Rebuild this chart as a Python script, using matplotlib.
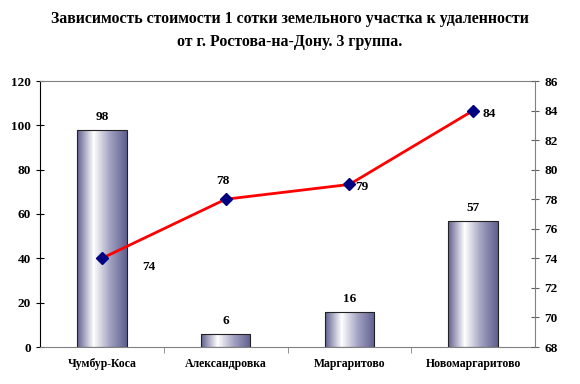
import numpy as np
import matplotlib.pyplot as plt
from matplotlib.colors import LinearSegmentedColormap

categories = ['Чумбур-Коса', 'Александровка', 'Маргаритово', 'Новомаргаритово']
price = [98, 6, 16, 57]
distance = [74, 78, 79, 84]

plt.rcParams['font.family'] = ['Liberation Serif', 'DejaVu Serif']
plt.rcParams['font.weight'] = 'bold'

fig = plt.figure(figsize=(5.8, 3.84), dpi=100)
ax = fig.add_axes([40 / 580, 1 - 347 / 384, 495 / 580, 266 / 384])
x = np.arange(len(categories))
w = 0.4

# градиент для столбцов
cmap = LinearSegmentedColormap.from_list('bar', ['#5e5e8e', '#ffffff', '#a0a0c0', '#5e5e8e'],
                                         N=256)
grad = np.linspace(0, 1, 256).reshape(1, -1)
bars = ax.bar(x, price, w, color='none', edgecolor='#222222', linewidth=0.8, zorder=3)
for b in bars:
    x0, y0 = b.get_x(), b.get_y()
    im = ax.imshow(grad, cmap=cmap, aspect='auto', extent=[x0, x0 + w, y0, y0 + b.get_height()],
                   zorder=2)
    im.set_clip_path(b)
for xi, v in zip(x, price):
    ax.text(xi, v + 3, str(v), ha='center', va='bottom', fontsize=9.5)

ax.set_xlim(-0.5, 3.5)
ax.set_ylim(0, 120)
ax.set_yticks(range(0, 121, 20))
ax.set_xticks(x)
ax.set_xticklabels(categories, fontsize=8.5)
ax.set_xticks([0.5, 1.5, 2.5], minor=True)
ax.tick_params(axis='x', which='major', length=0, pad=8)
ax.tick_params(axis='x', which='minor', length=4, color='#808080')
ax.tick_params(axis='y', labelsize=9.5, length=6, direction='inout')
ax.spines['top'].set_color('#808080')
ax.spines['bottom'].set_color('#808080')
ax.spines['right'].set_visible(False)

ax2 = ax.twinx()
ax2.plot(x, distance, color='red', lw=2, marker='D', markersize=6,
         markerfacecolor='#000080', markeredgecolor='#000080', zorder=4)
ax2.set_ylim(68, 86)
ax2.set_yticks(range(68, 87, 2))
ax2.tick_params(axis='y', labelsize=9.5, length=6, direction='inout', color='#606060')
for s in ['top', 'bottom', 'left']:
    ax2.spines[s].set_visible(False)
ax2.spines['right'].set_color('#808080')

offsets = [(0.38, -0.6), (-0.02, 1.2), (0.1, -0.2), (0.13, -0.2)]
for xi, v, (dx, dy) in zip(x, distance, offsets):
    ax2.text(xi + dx, v + dy, str(v), ha='center', va='center', fontsize=9.5)

fig.text(0.5, 0.921, 'Зависимость стоимости 1 сотки земельного участка к удаленности\n'
         'от г. Ростова-на-Дону. 3 группа.', ha='center', va='center', fontsize=11.4,
         fontweight='bold', linespacing=1.55)

fig.savefig('out.png', dpi=100)
